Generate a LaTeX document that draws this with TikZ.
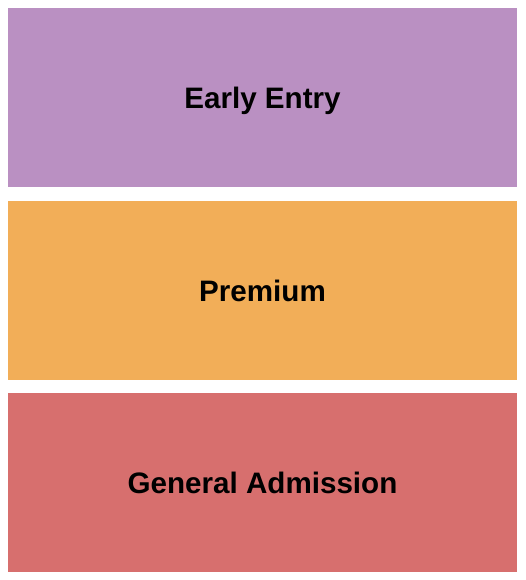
\documentclass[tikz,border=0pt]{standalone}
\usepackage{fontspec}
\setmainfont{Liberation Sans}
\usepackage{xcolor}
\usepackage{tikz}
\definecolor{early_purple}{HTML}{BA90C2}
\definecolor{premium_orange}{HTML}{F2AE58}
\definecolor{general_red}{HTML}{D76F6E}

\begin{document}
\begin{tikzpicture}[x=1pt, y=-1pt, every node/.style={font=\fontsize{29.6}{34}\selectfont\bfseries},
  section/.style={inner sep=0pt, minimum width=509pt, minimum height=179pt, text=black,
    text height=21.2pt, text depth=0pt}]

  \useasboundingbox (0,0) rectangle (525,580);

  % three standing areas, top to bottom
  \node[section, fill=early_purple] (early) at (262.5,97.5) {Early Entry};
  \node[section, fill=premium_orange] (premium) at (262.5,290.5) {Premium};
  \node[section, fill=general_red] (general) at (262.5,482.5) {General Admission};

\end{tikzpicture}
\end{document}
